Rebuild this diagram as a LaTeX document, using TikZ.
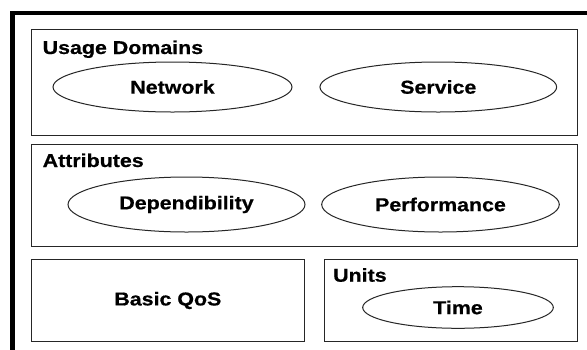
\documentclass[tikz,border=0pt]{standalone}
\usepackage{fontspec}
\usetikzlibrary{shapes.geometric}
\newfontfamily\lblfont[FakeStretch=1.15, FakeBold=0.6]{Liberation Sans Bold}
\tikzset{
  lbl/.style={font=\lblfont\fontsize{18.6}{21}\selectfont, inner sep=0pt},
  panel/.style={draw=black!85, line width=1pt, rectangle, inner sep=0pt},
  oval/.style={draw=black!85, line width=1pt, ellipse, inner sep=0pt,
               font=\lblfont\fontsize{18.6}{21}\selectfont},
}
\begin{document}
\begin{tikzpicture}[x=1pt, y=-1pt]
  \useasboundingbox (0,0) rectangle (587,349);
  \clip (0,0) rectangle (587,349);
  \fill[white] (0,0) rectangle (587,349);

  % heavy outer frame, running off the right and bottom edges
  \coordinate (fb) at (12.5,380);
  \coordinate (fc) at (12.5,13);
  \coordinate (fr) at (620,13);
  \draw[line width=4.5pt] (fb) -- (fc) -- (fr);

  % panels
  \node[panel, minimum width=546pt, minimum height=106.5pt] (usage) at (304.5,82.25) {};
  \node[panel, minimum width=546pt, minimum height=102.7pt] (attr) at (304.5,195.35) {};
  \node[panel, minimum width=272.3pt, minimum height=82.4pt] (basic) at (167.85,300.5) {};
  \node[panel, minimum width=253pt, minimum height=82.4pt] (units) at (450.8,300.5) {};

  % panel titles
  \node[lbl, anchor=base west] (usaget) at (42.5,54) {Usage Domains};
  \node[lbl, anchor=base west] (attrt) at (42.5,167) {Attributes};
  \node[lbl, anchor=base west] (unitst) at (333,281.7) {Units};
  \node[lbl] (basict) at (basic.center) {Basic QoS};

  % ellipses
  \node[oval, minimum width=239pt, minimum height=50pt] (network) at (172.5,87) {Network};
  \node[oval, minimum width=236.7pt, minimum height=50pt] (service) at (438.3,87) {Service};
  \node[oval, minimum width=237pt, minimum height=55pt] (dep) at (186.5,204.5) {Dependibility};
  \node[oval, minimum width=237.6pt, minimum height=55pt] (perf) at (440.5,204.5) {Performance};
  \node[oval, minimum width=190.6pt, minimum height=41.6pt] (time) at (458,307.5) {Time};
\end{tikzpicture}
\end{document}
